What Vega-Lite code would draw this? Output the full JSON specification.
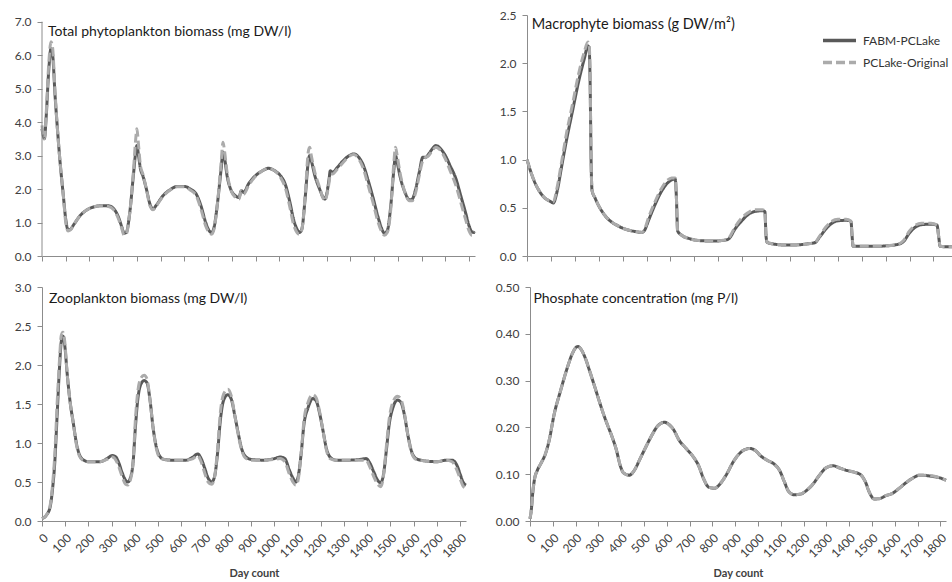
{
"$schema": "https://vega.github.io/schema/vega-lite/v6.json",
"padding": {"left": 14, "top": 9, "right": 0, "bottom": 0},
"background": "white",
"datasets": {
"phyto": [
{"day":0,"FABM-PCLake":3.8,"PCLake-Original":3.9},{"day":5,"FABM-PCLake":3.6,"PCLake-Original":3.6},{"day":10,"FABM-PCLake":3.5,"PCLake-Original":3.5},{"day":18,"FABM-PCLake":4.2,"PCLake-Original":4.3},{"day":28,"FABM-PCLake":5.5,"PCLake-Original":5.7},{"day":38,"FABM-PCLake":6.2,"PCLake-Original":6.4},{"day":45,"FABM-PCLake":6.0,"PCLake-Original":6.2},{"day":55,"FABM-PCLake":4.8,"PCLake-Original":4.9},{"day":65,"FABM-PCLake":3.8,"PCLake-Original":3.8},{"day":75,"FABM-PCLake":2.9,"PCLake-Original":2.9},{"day":90,"FABM-PCLake":1.8,"PCLake-Original":1.8},{"day":100,"FABM-PCLake":1.1,"PCLake-Original":1.0},{"day":110,"FABM-PCLake":0.78,"PCLake-Original":0.75},{"day":120,"FABM-PCLake":0.8,"PCLake-Original":0.78},{"day":135,"FABM-PCLake":0.95,"PCLake-Original":0.95},{"day":160,"FABM-PCLake":1.2,"PCLake-Original":1.2},{"day":190,"FABM-PCLake":1.38,"PCLake-Original":1.38},{"day":220,"FABM-PCLake":1.47,"PCLake-Original":1.47},{"day":250,"FABM-PCLake":1.5,"PCLake-Original":1.5},{"day":280,"FABM-PCLake":1.5,"PCLake-Original":1.48},{"day":300,"FABM-PCLake":1.43,"PCLake-Original":1.4},{"day":320,"FABM-PCLake":1.2,"PCLake-Original":1.15},{"day":335,"FABM-PCLake":0.9,"PCLake-Original":0.85},{"day":346,"FABM-PCLake":0.68,"PCLake-Original":0.62},{"day":355,"FABM-PCLake":0.7,"PCLake-Original":0.65},{"day":370,"FABM-PCLake":1.3,"PCLake-Original":1.3},{"day":385,"FABM-PCLake":2.4,"PCLake-Original":2.5},{"day":395,"FABM-PCLake":3.1,"PCLake-Original":3.5},{"day":400,"FABM-PCLake":3.3,"PCLake-Original":3.8},{"day":407,"FABM-PCLake":3.0,"PCLake-Original":3.3},{"day":415,"FABM-PCLake":2.6,"PCLake-Original":2.7},{"day":425,"FABM-PCLake":2.4,"PCLake-Original":2.45},{"day":440,"FABM-PCLake":2.0,"PCLake-Original":2.0},{"day":455,"FABM-PCLake":1.55,"PCLake-Original":1.5},{"day":468,"FABM-PCLake":1.4,"PCLake-Original":1.38},{"day":480,"FABM-PCLake":1.5,"PCLake-Original":1.48},{"day":510,"FABM-PCLake":1.8,"PCLake-Original":1.78},{"day":540,"FABM-PCLake":1.98,"PCLake-Original":1.97},{"day":570,"FABM-PCLake":2.08,"PCLake-Original":2.07},{"day":600,"FABM-PCLake":2.08,"PCLake-Original":2.07},{"day":625,"FABM-PCLake":2.0,"PCLake-Original":1.97},{"day":650,"FABM-PCLake":1.85,"PCLake-Original":1.8},{"day":670,"FABM-PCLake":1.5,"PCLake-Original":1.4},{"day":690,"FABM-PCLake":1.0,"PCLake-Original":0.9},{"day":705,"FABM-PCLake":0.75,"PCLake-Original":0.7},{"day":715,"FABM-PCLake":0.7,"PCLake-Original":0.65},{"day":725,"FABM-PCLake":0.85,"PCLake-Original":0.8},{"day":740,"FABM-PCLake":1.6,"PCLake-Original":1.6},{"day":755,"FABM-PCLake":2.6,"PCLake-Original":2.8},{"day":763,"FABM-PCLake":3.1,"PCLake-Original":3.4},{"day":770,"FABM-PCLake":2.9,"PCLake-Original":3.1},{"day":780,"FABM-PCLake":2.4,"PCLake-Original":2.5},{"day":795,"FABM-PCLake":2.0,"PCLake-Original":2.0},{"day":815,"FABM-PCLake":1.8,"PCLake-Original":1.75},{"day":830,"FABM-PCLake":1.75,"PCLake-Original":1.7},{"day":840,"FABM-PCLake":1.95,"PCLake-Original":1.95},{"day":850,"FABM-PCLake":1.9,"PCLake-Original":1.85},{"day":870,"FABM-PCLake":2.15,"PCLake-Original":2.1},{"day":900,"FABM-PCLake":2.4,"PCLake-Original":2.38},{"day":930,"FABM-PCLake":2.55,"PCLake-Original":2.55},{"day":955,"FABM-PCLake":2.62,"PCLake-Original":2.62},{"day":980,"FABM-PCLake":2.55,"PCLake-Original":2.55},{"day":1005,"FABM-PCLake":2.4,"PCLake-Original":2.35},{"day":1025,"FABM-PCLake":2.15,"PCLake-Original":2.05},{"day":1045,"FABM-PCLake":1.6,"PCLake-Original":1.45},{"day":1060,"FABM-PCLake":1.1,"PCLake-Original":0.95},{"day":1075,"FABM-PCLake":0.8,"PCLake-Original":0.7},{"day":1085,"FABM-PCLake":0.7,"PCLake-Original":0.65},{"day":1095,"FABM-PCLake":0.8,"PCLake-Original":0.78},{"day":1110,"FABM-PCLake":1.8,"PCLake-Original":1.9},{"day":1122,"FABM-PCLake":2.8,"PCLake-Original":3.1},{"day":1128,"FABM-PCLake":3.0,"PCLake-Original":3.25},{"day":1135,"FABM-PCLake":2.85,"PCLake-Original":3.0},{"day":1150,"FABM-PCLake":2.4,"PCLake-Original":2.5},{"day":1170,"FABM-PCLake":2.0,"PCLake-Original":2.05},{"day":1185,"FABM-PCLake":1.75,"PCLake-Original":1.72},{"day":1192,"FABM-PCLake":1.7,"PCLake-Original":1.65},{"day":1200,"FABM-PCLake":1.85,"PCLake-Original":1.8},{"day":1210,"FABM-PCLake":2.3,"PCLake-Original":2.2},{"day":1215,"FABM-PCLake":2.55,"PCLake-Original":2.45},{"day":1225,"FABM-PCLake":2.5,"PCLake-Original":2.45},{"day":1245,"FABM-PCLake":2.65,"PCLake-Original":2.6},{"day":1270,"FABM-PCLake":2.85,"PCLake-Original":2.8},{"day":1295,"FABM-PCLake":3.0,"PCLake-Original":2.98},{"day":1315,"FABM-PCLake":3.05,"PCLake-Original":3.03},{"day":1335,"FABM-PCLake":2.95,"PCLake-Original":2.9},{"day":1355,"FABM-PCLake":2.7,"PCLake-Original":2.6},{"day":1375,"FABM-PCLake":2.25,"PCLake-Original":2.1},{"day":1395,"FABM-PCLake":1.75,"PCLake-Original":1.6},{"day":1415,"FABM-PCLake":1.2,"PCLake-Original":1.05},{"day":1430,"FABM-PCLake":0.85,"PCLake-Original":0.75},{"day":1443,"FABM-PCLake":0.68,"PCLake-Original":0.62},{"day":1455,"FABM-PCLake":0.75,"PCLake-Original":0.7},{"day":1470,"FABM-PCLake":1.5,"PCLake-Original":1.4},{"day":1482,"FABM-PCLake":2.5,"PCLake-Original":2.7},{"day":1490,"FABM-PCLake":3.0,"PCLake-Original":3.25},{"day":1497,"FABM-PCLake":2.8,"PCLake-Original":3.0},{"day":1510,"FABM-PCLake":2.35,"PCLake-Original":2.45},{"day":1530,"FABM-PCLake":1.9,"PCLake-Original":1.9},{"day":1548,"FABM-PCLake":1.68,"PCLake-Original":1.65},{"day":1560,"FABM-PCLake":1.7,"PCLake-Original":1.65},{"day":1575,"FABM-PCLake":2.0,"PCLake-Original":1.9},{"day":1590,"FABM-PCLake":2.5,"PCLake-Original":2.4},{"day":1605,"FABM-PCLake":2.95,"PCLake-Original":2.85},{"day":1618,"FABM-PCLake":2.95,"PCLake-Original":2.95},{"day":1630,"FABM-PCLake":3.05,"PCLake-Original":3.0},{"day":1645,"FABM-PCLake":3.2,"PCLake-Original":3.15},{"day":1660,"FABM-PCLake":3.3,"PCLake-Original":3.25},{"day":1680,"FABM-PCLake":3.2,"PCLake-Original":3.15},{"day":1700,"FABM-PCLake":3.0,"PCLake-Original":2.9},{"day":1720,"FABM-PCLake":2.7,"PCLake-Original":2.55},{"day":1745,"FABM-PCLake":2.3,"PCLake-Original":2.1},{"day":1765,"FABM-PCLake":1.8,"PCLake-Original":1.6},{"day":1785,"FABM-PCLake":1.3,"PCLake-Original":1.1},{"day":1800,"FABM-PCLake":0.9,"PCLake-Original":0.75},{"day":1812,"FABM-PCLake":0.72,"PCLake-Original":0.62},{"day":1825,"FABM-PCLake":0.7,"PCLake-Original":0.72}
],
"macro": [
{"day":0,"FABM-PCLake":1.0,"PCLake-Original":1.0},{"day":15,"FABM-PCLake":0.88,"PCLake-Original":0.88},{"day":35,"FABM-PCLake":0.75,"PCLake-Original":0.75},{"day":55,"FABM-PCLake":0.66,"PCLake-Original":0.66},{"day":75,"FABM-PCLake":0.6,"PCLake-Original":0.6},{"day":95,"FABM-PCLake":0.57,"PCLake-Original":0.57},{"day":110,"FABM-PCLake":0.55,"PCLake-Original":0.56},{"day":125,"FABM-PCLake":0.66,"PCLake-Original":0.7},{"day":145,"FABM-PCLake":0.93,"PCLake-Original":0.98},{"day":165,"FABM-PCLake":1.2,"PCLake-Original":1.27},{"day":190,"FABM-PCLake":1.5,"PCLake-Original":1.57},{"day":215,"FABM-PCLake":1.8,"PCLake-Original":1.88},{"day":240,"FABM-PCLake":2.05,"PCLake-Original":2.12},{"day":255,"FABM-PCLake":2.18,"PCLake-Original":2.22},{"day":260,"FABM-PCLake":2.15,"PCLake-Original":2.2},{"day":264,"FABM-PCLake":1.8,"PCLake-Original":1.85},{"day":268,"FABM-PCLake":1.0,"PCLake-Original":1.0},{"day":272,"FABM-PCLake":0.68,"PCLake-Original":0.68},{"day":285,"FABM-PCLake":0.6,"PCLake-Original":0.6},{"day":300,"FABM-PCLake":0.52,"PCLake-Original":0.52},{"day":320,"FABM-PCLake":0.44,"PCLake-Original":0.44},{"day":345,"FABM-PCLake":0.37,"PCLake-Original":0.37},{"day":375,"FABM-PCLake":0.32,"PCLake-Original":0.32},{"day":410,"FABM-PCLake":0.28,"PCLake-Original":0.28},{"day":450,"FABM-PCLake":0.255,"PCLake-Original":0.255},{"day":480,"FABM-PCLake":0.245,"PCLake-Original":0.245},{"day":490,"FABM-PCLake":0.26,"PCLake-Original":0.27},{"day":510,"FABM-PCLake":0.38,"PCLake-Original":0.41},{"day":535,"FABM-PCLake":0.53,"PCLake-Original":0.56},{"day":560,"FABM-PCLake":0.66,"PCLake-Original":0.69},{"day":585,"FABM-PCLake":0.75,"PCLake-Original":0.78},{"day":605,"FABM-PCLake":0.79,"PCLake-Original":0.81},{"day":620,"FABM-PCLake":0.8,"PCLake-Original":0.81},{"day":625,"FABM-PCLake":0.6,"PCLake-Original":0.6},{"day":630,"FABM-PCLake":0.26,"PCLake-Original":0.26},{"day":650,"FABM-PCLake":0.21,"PCLake-Original":0.21},{"day":680,"FABM-PCLake":0.18,"PCLake-Original":0.18},{"day":720,"FABM-PCLake":0.16,"PCLake-Original":0.16},{"day":780,"FABM-PCLake":0.155,"PCLake-Original":0.155},{"day":830,"FABM-PCLake":0.165,"PCLake-Original":0.165},{"day":845,"FABM-PCLake":0.18,"PCLake-Original":0.19},{"day":870,"FABM-PCLake":0.28,"PCLake-Original":0.3},{"day":900,"FABM-PCLake":0.37,"PCLake-Original":0.4},{"day":925,"FABM-PCLake":0.43,"PCLake-Original":0.45},{"day":950,"FABM-PCLake":0.46,"PCLake-Original":0.48},{"day":985,"FABM-PCLake":0.47,"PCLake-Original":0.48},{"day":995,"FABM-PCLake":0.46,"PCLake-Original":0.46},{"day":1000,"FABM-PCLake":0.2,"PCLake-Original":0.2},{"day":1005,"FABM-PCLake":0.14,"PCLake-Original":0.14},{"day":1030,"FABM-PCLake":0.125,"PCLake-Original":0.125},{"day":1070,"FABM-PCLake":0.115,"PCLake-Original":0.115},{"day":1120,"FABM-PCLake":0.115,"PCLake-Original":0.115},{"day":1170,"FABM-PCLake":0.125,"PCLake-Original":0.125},{"day":1205,"FABM-PCLake":0.14,"PCLake-Original":0.14},{"day":1225,"FABM-PCLake":0.2,"PCLake-Original":0.21},{"day":1250,"FABM-PCLake":0.28,"PCLake-Original":0.3},{"day":1275,"FABM-PCLake":0.34,"PCLake-Original":0.36},{"day":1300,"FABM-PCLake":0.365,"PCLake-Original":0.38},{"day":1335,"FABM-PCLake":0.37,"PCLake-Original":0.38},{"day":1355,"FABM-PCLake":0.36,"PCLake-Original":0.36},{"day":1360,"FABM-PCLake":0.2,"PCLake-Original":0.2},{"day":1364,"FABM-PCLake":0.1,"PCLake-Original":0.1},{"day":1400,"FABM-PCLake":0.1,"PCLake-Original":0.1},{"day":1450,"FABM-PCLake":0.1,"PCLake-Original":0.1},{"day":1500,"FABM-PCLake":0.105,"PCLake-Original":0.105},{"day":1550,"FABM-PCLake":0.12,"PCLake-Original":0.12},{"day":1575,"FABM-PCLake":0.15,"PCLake-Original":0.16},{"day":1600,"FABM-PCLake":0.24,"PCLake-Original":0.26},{"day":1625,"FABM-PCLake":0.3,"PCLake-Original":0.32},{"day":1650,"FABM-PCLake":0.325,"PCLake-Original":0.34},{"day":1690,"FABM-PCLake":0.33,"PCLake-Original":0.34},{"day":1715,"FABM-PCLake":0.32,"PCLake-Original":0.32},{"day":1722,"FABM-PCLake":0.2,"PCLake-Original":0.2},{"day":1728,"FABM-PCLake":0.1,"PCLake-Original":0.1},{"day":1760,"FABM-PCLake":0.095,"PCLake-Original":0.095},{"day":1786,"FABM-PCLake":0.095,"PCLake-Original":0.095}
],
"zoo": [
{"day":0,"FABM-PCLake":0.03,"PCLake-Original":0.03},{"day":20,"FABM-PCLake":0.08,"PCLake-Original":0.08},{"day":35,"FABM-PCLake":0.18,"PCLake-Original":0.2},{"day":45,"FABM-PCLake":0.4,"PCLake-Original":0.45},{"day":55,"FABM-PCLake":0.75,"PCLake-Original":0.85},{"day":65,"FABM-PCLake":1.35,"PCLake-Original":1.5},{"day":75,"FABM-PCLake":1.95,"PCLake-Original":2.05},{"day":83,"FABM-PCLake":2.3,"PCLake-Original":2.38},{"day":90,"FABM-PCLake":2.37,"PCLake-Original":2.42},{"day":98,"FABM-PCLake":2.25,"PCLake-Original":2.3},{"day":108,"FABM-PCLake":1.9,"PCLake-Original":1.9},{"day":120,"FABM-PCLake":1.55,"PCLake-Original":1.55},{"day":135,"FABM-PCLake":1.25,"PCLake-Original":1.25},{"day":148,"FABM-PCLake":1.0,"PCLake-Original":0.98},{"day":160,"FABM-PCLake":0.86,"PCLake-Original":0.84},{"day":175,"FABM-PCLake":0.79,"PCLake-Original":0.78},{"day":200,"FABM-PCLake":0.76,"PCLake-Original":0.76},{"day":250,"FABM-PCLake":0.76,"PCLake-Original":0.76},{"day":280,"FABM-PCLake":0.8,"PCLake-Original":0.79},{"day":303,"FABM-PCLake":0.84,"PCLake-Original":0.82},{"day":318,"FABM-PCLake":0.82,"PCLake-Original":0.78},{"day":330,"FABM-PCLake":0.75,"PCLake-Original":0.7},{"day":345,"FABM-PCLake":0.62,"PCLake-Original":0.57},{"day":360,"FABM-PCLake":0.52,"PCLake-Original":0.47},{"day":370,"FABM-PCLake":0.5,"PCLake-Original":0.46},{"day":380,"FABM-PCLake":0.55,"PCLake-Original":0.52},{"day":392,"FABM-PCLake":0.75,"PCLake-Original":0.75},{"day":402,"FABM-PCLake":1.2,"PCLake-Original":1.3},{"day":412,"FABM-PCLake":1.55,"PCLake-Original":1.65},{"day":425,"FABM-PCLake":1.75,"PCLake-Original":1.83},{"day":440,"FABM-PCLake":1.8,"PCLake-Original":1.87},{"day":452,"FABM-PCLake":1.77,"PCLake-Original":1.82},{"day":465,"FABM-PCLake":1.55,"PCLake-Original":1.55},{"day":478,"FABM-PCLake":1.2,"PCLake-Original":1.2},{"day":492,"FABM-PCLake":0.95,"PCLake-Original":0.93},{"day":505,"FABM-PCLake":0.84,"PCLake-Original":0.82},{"day":525,"FABM-PCLake":0.79,"PCLake-Original":0.79},{"day":560,"FABM-PCLake":0.78,"PCLake-Original":0.78},{"day":620,"FABM-PCLake":0.78,"PCLake-Original":0.78},{"day":650,"FABM-PCLake":0.82,"PCLake-Original":0.8},{"day":670,"FABM-PCLake":0.86,"PCLake-Original":0.84},{"day":685,"FABM-PCLake":0.8,"PCLake-Original":0.76},{"day":700,"FABM-PCLake":0.68,"PCLake-Original":0.62},{"day":715,"FABM-PCLake":0.55,"PCLake-Original":0.5},{"day":730,"FABM-PCLake":0.5,"PCLake-Original":0.47},{"day":742,"FABM-PCLake":0.56,"PCLake-Original":0.55},{"day":755,"FABM-PCLake":0.85,"PCLake-Original":0.9},{"day":768,"FABM-PCLake":1.3,"PCLake-Original":1.4},{"day":782,"FABM-PCLake":1.55,"PCLake-Original":1.63},{"day":800,"FABM-PCLake":1.62,"PCLake-Original":1.69},{"day":815,"FABM-PCLake":1.56,"PCLake-Original":1.6},{"day":830,"FABM-PCLake":1.35,"PCLake-Original":1.35},{"day":845,"FABM-PCLake":1.12,"PCLake-Original":1.1},{"day":860,"FABM-PCLake":0.92,"PCLake-Original":0.9},{"day":875,"FABM-PCLake":0.83,"PCLake-Original":0.81},{"day":900,"FABM-PCLake":0.79,"PCLake-Original":0.78},{"day":950,"FABM-PCLake":0.78,"PCLake-Original":0.78},{"day":1000,"FABM-PCLake":0.8,"PCLake-Original":0.79},{"day":1025,"FABM-PCLake":0.82,"PCLake-Original":0.8},{"day":1045,"FABM-PCLake":0.8,"PCLake-Original":0.76},{"day":1065,"FABM-PCLake":0.65,"PCLake-Original":0.6},{"day":1080,"FABM-PCLake":0.55,"PCLake-Original":0.5},{"day":1092,"FABM-PCLake":0.5,"PCLake-Original":0.46},{"day":1102,"FABM-PCLake":0.56,"PCLake-Original":0.52},{"day":1115,"FABM-PCLake":0.85,"PCLake-Original":0.85},{"day":1128,"FABM-PCLake":1.25,"PCLake-Original":1.3},{"day":1145,"FABM-PCLake":1.45,"PCLake-Original":1.52},{"day":1165,"FABM-PCLake":1.57,"PCLake-Original":1.62},{"day":1180,"FABM-PCLake":1.54,"PCLake-Original":1.58},{"day":1195,"FABM-PCLake":1.38,"PCLake-Original":1.4},{"day":1210,"FABM-PCLake":1.15,"PCLake-Original":1.15},{"day":1225,"FABM-PCLake":0.92,"PCLake-Original":0.9},{"day":1240,"FABM-PCLake":0.82,"PCLake-Original":0.8},{"day":1265,"FABM-PCLake":0.78,"PCLake-Original":0.78},{"day":1320,"FABM-PCLake":0.78,"PCLake-Original":0.78},{"day":1370,"FABM-PCLake":0.79,"PCLake-Original":0.78},{"day":1395,"FABM-PCLake":0.8,"PCLake-Original":0.78},{"day":1410,"FABM-PCLake":0.75,"PCLake-Original":0.7},{"day":1428,"FABM-PCLake":0.63,"PCLake-Original":0.57},{"day":1445,"FABM-PCLake":0.52,"PCLake-Original":0.47},{"day":1458,"FABM-PCLake":0.49,"PCLake-Original":0.44},{"day":1470,"FABM-PCLake":0.6,"PCLake-Original":0.58},{"day":1482,"FABM-PCLake":0.9,"PCLake-Original":0.95},{"day":1495,"FABM-PCLake":1.25,"PCLake-Original":1.32},{"day":1510,"FABM-PCLake":1.45,"PCLake-Original":1.52},{"day":1530,"FABM-PCLake":1.55,"PCLake-Original":1.6},{"day":1545,"FABM-PCLake":1.52,"PCLake-Original":1.56},{"day":1560,"FABM-PCLake":1.36,"PCLake-Original":1.38},{"day":1575,"FABM-PCLake":1.1,"PCLake-Original":1.1},{"day":1590,"FABM-PCLake":0.9,"PCLake-Original":0.88},{"day":1610,"FABM-PCLake":0.8,"PCLake-Original":0.79},{"day":1650,"FABM-PCLake":0.77,"PCLake-Original":0.77},{"day":1700,"FABM-PCLake":0.76,"PCLake-Original":0.76},{"day":1740,"FABM-PCLake":0.78,"PCLake-Original":0.78},{"day":1765,"FABM-PCLake":0.78,"PCLake-Original":0.76},{"day":1785,"FABM-PCLake":0.72,"PCLake-Original":0.66},{"day":1800,"FABM-PCLake":0.6,"PCLake-Original":0.54},{"day":1812,"FABM-PCLake":0.5,"PCLake-Original":0.45},{"day":1825,"FABM-PCLake":0.46,"PCLake-Original":0.42}
],
"phos": [
{"day":0,"FABM-PCLake":0.005,"PCLake-Original":0.005},{"day":6,"FABM-PCLake":0.025,"PCLake-Original":0.025},{"day":12,"FABM-PCLake":0.06,"PCLake-Original":0.06},{"day":20,"FABM-PCLake":0.09,"PCLake-Original":0.09},{"day":32,"FABM-PCLake":0.108,"PCLake-Original":0.108},{"day":50,"FABM-PCLake":0.125,"PCLake-Original":0.125},{"day":65,"FABM-PCLake":0.14,"PCLake-Original":0.14},{"day":84,"FABM-PCLake":0.172,"PCLake-Original":0.172},{"day":106,"FABM-PCLake":0.228,"PCLake-Original":0.228},{"day":135,"FABM-PCLake":0.28,"PCLake-Original":0.28},{"day":164,"FABM-PCLake":0.328,"PCLake-Original":0.328},{"day":186,"FABM-PCLake":0.358,"PCLake-Original":0.358},{"day":200,"FABM-PCLake":0.37,"PCLake-Original":0.37},{"day":211,"FABM-PCLake":0.373,"PCLake-Original":0.373},{"day":225,"FABM-PCLake":0.366,"PCLake-Original":0.366},{"day":245,"FABM-PCLake":0.345,"PCLake-Original":0.345},{"day":260,"FABM-PCLake":0.323,"PCLake-Original":0.323},{"day":280,"FABM-PCLake":0.293,"PCLake-Original":0.293},{"day":300,"FABM-PCLake":0.262,"PCLake-Original":0.262},{"day":320,"FABM-PCLake":0.232,"PCLake-Original":0.232},{"day":340,"FABM-PCLake":0.205,"PCLake-Original":0.205},{"day":360,"FABM-PCLake":0.18,"PCLake-Original":0.18},{"day":380,"FABM-PCLake":0.15,"PCLake-Original":0.15},{"day":395,"FABM-PCLake":0.12,"PCLake-Original":0.12},{"day":410,"FABM-PCLake":0.103,"PCLake-Original":0.103},{"day":435,"FABM-PCLake":0.098,"PCLake-Original":0.098},{"day":460,"FABM-PCLake":0.11,"PCLake-Original":0.11},{"day":480,"FABM-PCLake":0.13,"PCLake-Original":0.13},{"day":505,"FABM-PCLake":0.155,"PCLake-Original":0.155},{"day":531,"FABM-PCLake":0.18,"PCLake-Original":0.18},{"day":560,"FABM-PCLake":0.203,"PCLake-Original":0.203},{"day":590,"FABM-PCLake":0.211,"PCLake-Original":0.211},{"day":610,"FABM-PCLake":0.206,"PCLake-Original":0.206},{"day":630,"FABM-PCLake":0.195,"PCLake-Original":0.195},{"day":655,"FABM-PCLake":0.172,"PCLake-Original":0.172},{"day":685,"FABM-PCLake":0.155,"PCLake-Original":0.155},{"day":715,"FABM-PCLake":0.138,"PCLake-Original":0.138},{"day":740,"FABM-PCLake":0.118,"PCLake-Original":0.118},{"day":760,"FABM-PCLake":0.092,"PCLake-Original":0.092},{"day":785,"FABM-PCLake":0.072,"PCLake-Original":0.072},{"day":810,"FABM-PCLake":0.07,"PCLake-Original":0.07},{"day":835,"FABM-PCLake":0.08,"PCLake-Original":0.08},{"day":865,"FABM-PCLake":0.102,"PCLake-Original":0.102},{"day":890,"FABM-PCLake":0.125,"PCLake-Original":0.125},{"day":915,"FABM-PCLake":0.142,"PCLake-Original":0.142},{"day":940,"FABM-PCLake":0.152,"PCLake-Original":0.152},{"day":965,"FABM-PCLake":0.155,"PCLake-Original":0.155},{"day":990,"FABM-PCLake":0.15,"PCLake-Original":0.15},{"day":1010,"FABM-PCLake":0.14,"PCLake-Original":0.14},{"day":1040,"FABM-PCLake":0.13,"PCLake-Original":0.13},{"day":1075,"FABM-PCLake":0.12,"PCLake-Original":0.12},{"day":1095,"FABM-PCLake":0.108,"PCLake-Original":0.108},{"day":1115,"FABM-PCLake":0.085,"PCLake-Original":0.085},{"day":1135,"FABM-PCLake":0.063,"PCLake-Original":0.063},{"day":1160,"FABM-PCLake":0.056,"PCLake-Original":0.056},{"day":1190,"FABM-PCLake":0.058,"PCLake-Original":0.058},{"day":1215,"FABM-PCLake":0.066,"PCLake-Original":0.066},{"day":1240,"FABM-PCLake":0.078,"PCLake-Original":0.078},{"day":1270,"FABM-PCLake":0.098,"PCLake-Original":0.098},{"day":1300,"FABM-PCLake":0.114,"PCLake-Original":0.114},{"day":1330,"FABM-PCLake":0.118,"PCLake-Original":0.118},{"day":1360,"FABM-PCLake":0.113,"PCLake-Original":0.113},{"day":1390,"FABM-PCLake":0.108,"PCLake-Original":0.108},{"day":1425,"FABM-PCLake":0.104,"PCLake-Original":0.104},{"day":1450,"FABM-PCLake":0.099,"PCLake-Original":0.099},{"day":1470,"FABM-PCLake":0.085,"PCLake-Original":0.085},{"day":1490,"FABM-PCLake":0.06,"PCLake-Original":0.06},{"day":1510,"FABM-PCLake":0.047,"PCLake-Original":0.047},{"day":1535,"FABM-PCLake":0.048,"PCLake-Original":0.048},{"day":1560,"FABM-PCLake":0.054,"PCLake-Original":0.054},{"day":1590,"FABM-PCLake":0.059,"PCLake-Original":0.059},{"day":1620,"FABM-PCLake":0.07,"PCLake-Original":0.07},{"day":1650,"FABM-PCLake":0.082,"PCLake-Original":0.082},{"day":1680,"FABM-PCLake":0.092,"PCLake-Original":0.092},{"day":1710,"FABM-PCLake":0.098,"PCLake-Original":0.098},{"day":1740,"FABM-PCLake":0.097,"PCLake-Original":0.098},{"day":1770,"FABM-PCLake":0.095,"PCLake-Original":0.096},{"day":1800,"FABM-PCLake":0.092,"PCLake-Original":0.092},{"day":1825,"FABM-PCLake":0.087,"PCLake-Original":0.087}
]
},
"vconcat": [
{"hconcat": [
{"width": 433, "height": 241,
 "layer": [
  {"data": {"name": "phyto"},
   "transform": [{"fold": ["FABM-PCLake", "PCLake-Original"], "as": ["series", "value"]}],
   "mark": {"type": "line", "interpolate": "monotone", "strokeWidth": 3},
   "encoding": {
    "x": {"field": "day", "type": "quantitative", "scale": {"domain": [0, 1825], "nice": false}, "axis": {"values": [0,100,200,300,400,500,600,700,800,900,1000,1100,1200,1300,1400,1500,1600,1700,1800], "tickCount": 40, "labels": false, "title": null}},
    "y": {"field": "value", "type": "quantitative", "scale": {"domain": [0, 7.2], "nice": false}, "axis": {"values": [0,1,2,3,4,5,6,7], "tickCount": 40, "format": ".1f", "title": null, "domain": false}},
    "color": {"field": "series", "type": "nominal", "scale": {"domain": ["FABM-PCLake", "PCLake-Original"], "range": ["#595959", "#ababab"]}, "legend": null},
    "strokeDash": {"field": "series", "type": "nominal", "scale": {"domain": ["FABM-PCLake", "PCLake-Original"], "range": [[1, 0], [9, 4]]}, "legend": null}
   }},
  {"data": {"values": [{}]},
   "mark": {"type": "rule", "color": "#8c8c8c", "strokeWidth": 1},
   "encoding": {"x": {"datum": 0}, "y": {"datum": 0}, "y2": {"datum": 7}}},
  {"data": {"values": [{}]},
   "mark": {"type": "text", "align": "left", "baseline": "alphabetic", "font": "Lato", "fontSize": 14, "color": "#1a1a1a"},
   "encoding": {"x": {"datum": 25}, "y": {"datum": 6.58}, "text": {"value": "Total phytoplankton  biomass (mg DW/l)"}}}
 ]},
{"width": 427, "height": 241,
 "layer": [
  {"data": {"name": "macro"},
   "transform": [{"fold": ["FABM-PCLake", "PCLake-Original"], "as": ["series", "value"]}],
   "mark": {"type": "line", "interpolate": "monotone", "strokeWidth": 3},
   "encoding": {
    "x": {"field": "day", "type": "quantitative", "scale": {"domain": [0, 1786], "nice": false}, "axis": {"values": [0,100,200,300,400,500,600,700,800,900,1000,1100,1200,1300,1400,1500,1600,1700], "tickCount": 40, "labels": false, "title": null}},
    "y": {"field": "value", "type": "quantitative", "scale": {"domain": [0, 2.5], "nice": false}, "axis": {"values": [0,0.5,1,1.5,2,2.5], "tickCount": 40, "format": ".1f", "title": null}},
    "color": {"field": "series", "type": "nominal", "scale": {"domain": ["FABM-PCLake", "PCLake-Original"], "range": ["#595959", "#ababab"]},
      "legend": {"orient": "top-right", "title": " ", "titleFontSize": 12, "titlePadding": 1, "offset": 5, "padding": 0, "symbolType": "M-3,0H3", "symbolSize": 121, "symbolStrokeWidth": 3.5, "labelFontSize": 12, "labelFont": "Lato", "labelColor": "#333333", "labelOffset": 16, "rowPadding": 7}},
    "strokeDash": {"field": "series", "type": "nominal", "scale": {"domain": ["FABM-PCLake", "PCLake-Original"], "range": [[1, 0], [9, 4]]},
      "legend": {"orient": "top-right", "title": " ", "titleFontSize": 12, "titlePadding": 1, "offset": 5, "padding": 0, "symbolType": "M-3,0H3", "symbolSize": 121, "symbolStrokeWidth": 3.5, "labelFontSize": 12, "labelFont": "Lato", "labelColor": "#333333", "labelOffset": 16, "rowPadding": 7}}
   }},
  {"data": {"values": [{}]},
   "mark": {"type": "text", "align": "left", "baseline": "alphabetic", "font": "Lato", "fontSize": 14.5, "color": "#1a1a1a"},
   "encoding": {"x": {"datum": 20}, "y": {"datum": 2.355}, "text": {"value": "Macrophyte biomass (g DW/m²)"}}}
 ]}
], "spacing": 18,
 "resolve": {"scale": {"color": "independent", "strokeDash": "independent"}, "legend": {"color": "independent", "strokeDash": "independent"}}},
{"hconcat": [
{"width": 424, "height": 234,
 "layer": [
  {"data": {"name": "zoo"},
   "transform": [{"fold": ["FABM-PCLake", "PCLake-Original"], "as": ["series", "value"]}],
   "mark": {"type": "line", "interpolate": "monotone", "strokeWidth": 3},
   "encoding": {
    "x": {"field": "day", "type": "quantitative", "scale": {"domain": [0, 1825], "nice": false}, "axis": {"values": [0,100,200,300,400,500,600,700,800,900,1000,1100,1200,1300,1400,1500,1600,1700,1800], "tickCount": 40, "format": "d", "labelAngle": -45, "labelOverlap": false, "labelFlush": false, "title": "Day count"}},
    "y": {"field": "value", "type": "quantitative", "scale": {"domain": [0, 3], "nice": false}, "axis": {"values": [0,0.5,1,1.5,2,2.5,3], "tickCount": 40, "format": ".1f", "title": null}},
    "color": {"field": "series", "type": "nominal", "scale": {"domain": ["FABM-PCLake", "PCLake-Original"], "range": ["#595959", "#ababab"]}, "legend": null},
    "strokeDash": {"field": "series", "type": "nominal", "scale": {"domain": ["FABM-PCLake", "PCLake-Original"], "range": [[1, 0], [9, 4]]}, "legend": null}
   }},
  {"data": {"values": [{}]},
   "mark": {"type": "text", "align": "left", "baseline": "alphabetic", "font": "Lato", "fontSize": 14, "color": "#1a1a1a"},
   "encoding": {"x": {"datum": 30}, "y": {"datum": 2.8}, "text": {"value": "Zooplankton biomass (mg DW/l)"}}}
 ]},
{"width": 416, "height": 234,
 "layer": [
  {"data": {"name": "phos"},
   "transform": [{"fold": ["FABM-PCLake", "PCLake-Original"], "as": ["series", "value"]}],
   "mark": {"type": "line", "interpolate": "monotone", "strokeWidth": 3},
   "encoding": {
    "x": {"field": "day", "type": "quantitative", "scale": {"domain": [0, 1825], "nice": false}, "axis": {"values": [0,100,200,300,400,500,600,700,800,900,1000,1100,1200,1300,1400,1500,1600,1700,1800], "tickCount": 40, "format": "d", "labelAngle": -45, "labelOverlap": false, "labelFlush": false, "title": "Day count"}},
    "y": {"field": "value", "type": "quantitative", "scale": {"domain": [0, 0.5], "nice": false}, "axis": {"values": [0,0.1,0.2,0.3,0.4,0.5], "tickCount": 40, "format": ".2f", "title": null}},
    "color": {"field": "series", "type": "nominal", "scale": {"domain": ["FABM-PCLake", "PCLake-Original"], "range": ["#595959", "#ababab"]}, "legend": null},
    "strokeDash": {"field": "series", "type": "nominal", "scale": {"domain": ["FABM-PCLake", "PCLake-Original"], "range": [[1, 0], [9, 4]]}, "legend": null}
   }},
  {"data": {"values": [{}]},
   "mark": {"type": "text", "align": "left", "baseline": "alphabetic", "font": "Lato", "fontSize": 14, "color": "#1a1a1a"},
   "encoding": {"x": {"datum": 15}, "y": {"datum": 0.466}, "text": {"value": "Phosphate concentration  (mg P/l)"}}}
 ]}
], "spacing": 23,
 "resolve": {"scale": {"color": "independent", "strokeDash": "independent"}, "legend": {"color": "independent", "strokeDash": "independent"}}}
],
"spacing": 19,
"resolve": {"scale": {"color": "independent", "strokeDash": "independent"}, "legend": {"color": "independent", "strokeDash": "independent"}},
"config": {
 "view": {"stroke": null},
 "font": "Lato",
 "axis": {"grid": false, "domainColor": "#8c8c8c", "tickColor": "#8c8c8c", "labelColor": "#404040", "labelFont": "Lato", "labelFontSize": 12, "tickSize": 5, "labelPadding": 6, "labelFlush": false, "labelOverlap": false, "titleFont": "Lato", "titleFontSize": 11, "titleFontWeight": "bold", "titleColor": "#404040", "titlePadding": 8}
}
}
